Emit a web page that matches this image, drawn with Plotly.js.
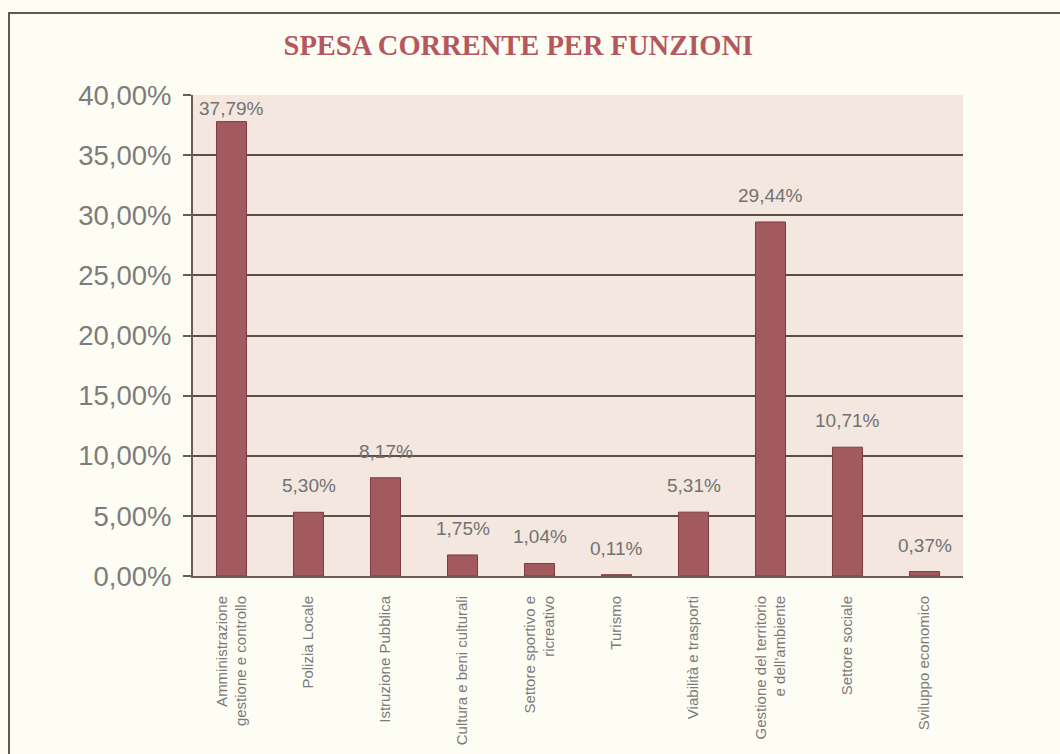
<!DOCTYPE html>
<html><head><meta charset="utf-8">
<script src="https://cdn.plot.ly/plotly-3.0.1.min.js"></script>
<style>
html,body{margin:0;padding:0;background:#fefdf3;}
#frame{position:absolute;left:8px;top:12px;width:1060px;height:760px;border:2px solid #5a5a5a;box-sizing:border-box;}
#chart{position:absolute;left:0;top:0;width:1060px;height:754px;}
</style></head>
<body>
<div id="frame"></div>
<div id="chart"></div>
<script>
const categories = [
  "Amministrazione<br>gestione e controllo",
  "Polizia Locale",
  "Istruzione Pubblica",
  "Cultura e beni culturali",
  "Settore sportivo e<br>ricreativo",
  "Turismo",
  "Viabilità e trasporti",
  "Gestione del territorio<br>e dell'ambiente",
  "Settore sociale",
  "Sviluppo economico"
];
const values = [37.79, 5.30, 8.17, 1.75, 1.04, 0.11, 5.31, 29.44, 10.71, 0.37];
const tickValues = [0, 5, 10, 15, 20, 25, 30, 35, 40];
const tickLabels = ["0,00%", "5,00%", "10,00%", "15,00%", "20,00%", "25,00%", "30,00%", "35,00%", "40,00%"];
const valueLabels = values.map(v => v.toFixed(2).replace('.', ',') + '%');

const trace = {
  type: 'bar',
  x: categories,
  y: values,
  marker: {color: '#a25a5f', line: {color: '#7a3e42', width: 1}},
  width: 0.39,
  hoverinfo: 'none'
};

const annotations = values.map((v, i) => ({
  x: categories[i], y: v, xref: 'x', yref: 'y',
  text: valueLabels[i], showarrow: false,
  yanchor: 'bottom', yshift: v > 36 ? 1 : 14,
  font: {family: 'Liberation Sans, Arial, sans-serif', size: 19, color: '#727272'}
}));

const layout = {
  width: 1060, height: 754,
  paper_bgcolor: 'rgba(0,0,0,0)',
  plot_bgcolor: '#f3e7e0',
  margin: {l: 193, r: 97, t: 95, b: 178},
  showlegend: false,
  annotations: annotations,
  title: {
    text: '<b>SPESA CORRENTE PER FUNZIONI</b>',
    font: {family: 'Liberation Serif, Times New Roman, serif', size: 28.5, color: '#b5585e'},
    x: 0.489, xanchor: 'center', y: 0.94, yanchor: 'middle'
  },
  xaxis: {
    type: 'category',
    tickangle: -90,
    tickfont: {family: 'Liberation Sans, Arial, sans-serif', size: 15, color: '#7a7a7a'},
    showline: true, linecolor: '#6b5a55', linewidth: 2,
    ticks: '', ticklabelstandoff: 12, showgrid: false, automargin: false
  },
  yaxis: {
    range: [0, 40],
    tickvals: tickValues,
    ticktext: tickLabels,
    tickfont: {family: 'Liberation Sans, Arial, sans-serif', size: 27.5, color: '#7c7c7c'},
    showgrid: true, gridcolor: '#5e4e48', gridwidth: 2,
    showline: true, linecolor: '#6b5a55', linewidth: 2,
    ticks: 'outside', ticklen: 8, tickcolor: '#6b5a55', tickwidth: 2,
    ticklabelstandoff: 6,
    zeroline: false, automargin: false
  }
};

Plotly.newPlot('chart', [trace], layout, {staticPlot: true, displayModeBar: false});
</script>
</body></html>
